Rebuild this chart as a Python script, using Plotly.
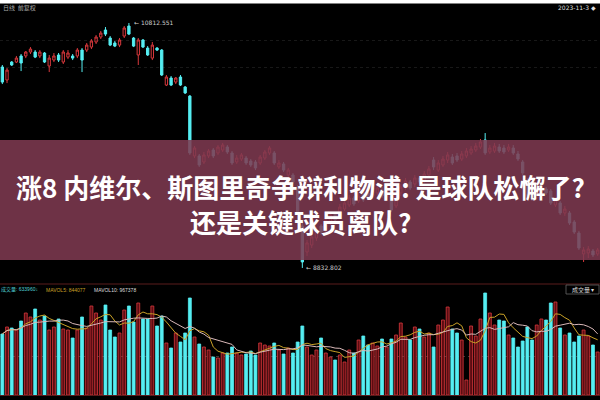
import plotly.graph_objects as go
import pandas as pd

# ---- data (index points, daily candles) ----
opens = [10457,10352,10497,10497,10546,10546,10578,10578,10546,10570,
         10465,10513,10554,10497,10537,10546,10546,10594,10594,10618,
         10659,10699,10756,10691,10651,10634,10707,10788,10691,10554,
         10675,10610,10529,10610,10594,10311,10368,10335,10376,10295,
         10222,9738,9738,9689,9738,9786,9762,9786,9810,9762,
         9689,9713,9721,9697,9689,9681,9721,9762,9762,9649,
         9673,9584,9584,9487,9172,8962,9018,9075,9172,9140,
         9204,9269,9253,9309,9342,9398,9374,9422,9439,9414,
         9439,9463,9406,9406,9334,9439,9487,9527,9511,9560,
         9544,9584,9705,9624,9665,9705,9729,9738,9713,9738,
         9762,9786,9810,9867,9770,9778,9810,9802,9786,9802,
         9754,9689,9544,9431,9398,9439,9471,9455,9342,9358,
         9277,9277,9204,9115,8946,8954,8970,8946]
highs = [10473,10449,10505,10546,10562,10586,10618,10594,10594,10578,
         10554,10570,10570,10594,10594,10562,10610,10610,10651,10683,
         10715,10748,10780,10707,10667,10691,10788,10812.551,10699,10691,
         10683,10626,10659,10618,10602,10392,10384,10376,10392,10303,
         10230,9818,9754,9770,9794,9802,9826,9843,9826,9778,
         9746,9762,9738,9713,9705,9746,9786,9818,9778,9705,
         9689,9641,9600,9503,9204,9059,9107,9164,9188,9245,
         9285,9285,9350,9382,9422,9414,9439,9439,9463,9479,
         9503,9487,9471,9422,9463,9511,9560,9544,9584,9576,
         9616,9657,9729,9705,9738,9770,9754,9762,9778,9802,
         9818,9843,9875,9923,9826,9843,9835,9826,9835,9826,
         9778,9705,9560,9447,9471,9503,9487,9471,9406,9374,
         9334,9293,9220,9132,9002,9010,8986,8994]
lows = [10319,10327,10465,10489,10424,10529,10562,10529,10529,10489,
        10416,10497,10497,10481,10521,10513,10529,10416,10578,10602,
        10643,10683,10707,10626,10618,10618,10691,10715,10618,10473,
        10610,10546,10513,10586,10384,10303,10303,10319,10303,10239,
        9746,9721,9649,9673,9721,9721,9746,9770,9754,9665,
        9673,9697,9665,9649,9624,9665,9705,9746,9665,9633,
        9608,9568,9511,9261,8832.802,8930,8994,9051,9099,9123,
        9180,9196,9237,9293,9325,9334,9358,9366,9382,9398,
        9422,9398,9390,9285,9317,9414,9463,9463,9487,9511,
        9519,9560,9624,9608,9649,9681,9665,9689,9697,9721,
        9746,9770,9794,9746,9754,9762,9762,9754,9770,9746,
        9697,9584,9398,9374,9382,9414,9422,9342,9325,9261,
        9253,9180,9107,8978,8881,8913,8921,8930]
closes = [10335,10432,10473,10529,10489,10578,10602,10537,10578,10497,
          10529,10546,10513,10578,10570,10529,10594,10513,10634,10667,
          10699,10731,10723,10634,10626,10675,10772,10723,10626,10675,
          10618,10554,10634,10594,10392,10376,10311,10368,10311,10247,
          9762,9802,9665,9746,9778,9738,9810,9826,9770,9681,
          9721,9746,9681,9665,9641,9729,9770,9802,9681,9681,
          9624,9624,9527,9277,8881,9035,9083,9140,9123,9220,
          9261,9220,9325,9358,9398,9350,9414,9382,9398,9455,
          9479,9414,9447,9301,9439,9487,9536,9479,9560,9527,
          9592,9633,9649,9681,9713,9746,9681,9705,9754,9778,
          9794,9818,9851,9762,9802,9818,9778,9770,9810,9762,
          9713,9600,9414,9390,9447,9479,9439,9358,9382,9277,
          9309,9196,9123,8994,8978,8986,8938,8978]
# volume in units of 10,000 lots
volumes = [61,68,67,65,74,82,78,86,75,79,
           65,68,76,66,65,57,65,78,67,89,
           82,75,90,65,58,62,85,89,73,92,
           76,76,89,69,79,52,47,62,53,62,
           97,58,51,48,45,38,37,42,42,48,
           42,40,41,44,40,52,50,49,52,45,
           41,47,42,53,69,48,40,45,57,42,
           38,35,40,33,45,42,55,59,50,52,
           49,56,48,56,60,72,58,55,68,66,
           58,62,48,70,75,88,66,62,55,15,
           69,59,76,102,82,70,75,74,60,57,
           48,54,68,55,70,76,75,92,93,67,
           60,62,53,59,65,59,50,43]

title_line1 = "涨8 内维尔、斯图里奇争辩利物浦: 是球队松懈了?"
title_line2 = "还是关键球员离队?"
max_label = "← 10812.551"
min_label = "← 8832.802"
vol_legend = ["成交量: 633960↓", "MAVOL5: 844077", "MAVOL10: 967378"]

CYAN = "#55eef2"
RED = "#d8383c"
x = list(range(len(closes)))
n = len(x)

vol_colors = [RED if c >= o else CYAN for o, c in zip(opens, closes)]
vol_fill = ["#5c0c12" if c >= o else CYAN for o, c in zip(opens, closes)]
vs = pd.Series(volumes, dtype=float)
ma5 = vs.rolling(5, min_periods=1).mean()
ma10 = vs.rolling(10, min_periods=1).mean()

fig = go.Figure()
fig.add_trace(go.Candlestick(
    x=x, open=opens, high=highs, low=lows, close=closes,
    increasing=dict(line=dict(color=RED, width=1), fillcolor="rgba(0,0,0,0)"),
    decreasing=dict(line=dict(color=CYAN, width=1), fillcolor=CYAN),
    whiskerwidth=0, showlegend=False, hoverinfo="skip",
    xaxis="x", yaxis="y"))
fig.add_trace(go.Bar(
    x=x, y=volumes, marker=dict(color=vol_fill, line=dict(color=vol_colors, width=0.8)),
    width=0.62, showlegend=False, hoverinfo="skip", xaxis="x", yaxis="y2"))
fig.add_trace(go.Scatter(x=x, y=ma5, mode="lines", line=dict(color="#c9a227", width=1),
                         showlegend=False, hoverinfo="skip", xaxis="x", yaxis="y2"))
fig.add_trace(go.Scatter(x=x, y=ma10, mode="lines", line=dict(color="#d9b8b8", width=1),
                         showlegend=False, hoverinfo="skip", xaxis="x", yaxis="y2"))

def py(px):
    return 1 - px / 400.0

shapes = [
    dict(type="rect", xref="paper", yref="paper", x0=0, x1=1, y0=py(3.5), y1=1,
         fillcolor="white", line=dict(width=0), layer="above"),
    dict(type="line", xref="paper", yref="paper", x0=0, x1=1, y0=py(284), y1=py(284),
         line=dict(color="#5a1c1c", width=1)),
    dict(type="line", xref="paper", yref="paper", x0=0, x1=1, y0=py(395.5), y1=py(395.5),
         line=dict(color="#5a1c1c", width=1)),
    dict(type="rect", xref="paper", yref="paper", x0=0, x1=1, y0=py(260), y1=py(140),
         fillcolor="rgba(126,58,80,0.87)", line=dict(width=0), layer="above"),
    dict(type="rect", xref="paper", yref="paper", x0=566/600, x1=599/600, y0=py(294), y1=py(285),
         fillcolor="rgba(0,0,0,0)", line=dict(color="#666", width=0.8)),
]

annotations = [
    dict(text=f"<b>{title_line1}</b>", xref="paper", yref="paper", x=0.5, y=py(186),
         showarrow=False, font=dict(family="Noto Sans CJK SC", size=26, color="white"),
         xanchor="center", yanchor="middle"),
    dict(text=f"<b>{title_line2}</b>", xref="paper", yref="paper", x=0.5, y=py(221),
         showarrow=False, font=dict(family="Noto Sans CJK SC", size=26, color="white"),
         xanchor="center", yanchor="middle"),
    dict(text=max_label, x=27.6, y=highs[27], xref="x", yref="y", showarrow=False,
         xanchor="left", yanchor="middle", font=dict(size=6, color="#cccccc", family="DejaVu Sans")),
    dict(text=min_label, x=64.4, y=min(lows), xref="x", yref="y", showarrow=False,
         xanchor="left", yanchor="middle", font=dict(size=6, color="#cccccc", family="DejaVu Sans")),
    dict(text="日线  前复权", xref="paper", yref="paper", x=0.003, y=py(7.5), showarrow=False,
         xanchor="left", yanchor="middle", borderpad=0,
         font=dict(size=6, color="#aaaaaa", family="Noto Sans CJK SC")),
    dict(text="2023-11-3 ◆", xref="paper", yref="paper", x=0.995, y=py(7.5), showarrow=False,
         xanchor="right", yanchor="middle", borderpad=0,
         font=dict(size=6, color="#dddddd", family="DejaVu Sans")),
    dict(text=vol_legend[0], xref="paper", yref="paper", x=0.0, y=py(289.5), showarrow=False,
         xanchor="left", yanchor="middle", borderpad=0,
         font=dict(size=5, color="#4fd0d6", family="Liberation Sans, Noto Sans CJK SC")),
    dict(text=vol_legend[1], xref="paper", yref="paper", x=45/600, y=py(289.5), showarrow=False,
         xanchor="left", yanchor="middle", borderpad=0,
         font=dict(size=5, color="#c9a227", family="Liberation Sans")),
    dict(text=vol_legend[2], xref="paper", yref="paper", x=93/600, y=py(289.5), showarrow=False,
         xanchor="left", yanchor="middle", borderpad=0,
         font=dict(size=5, color="#dddddd", family="Liberation Sans")),
    dict(text="成交量 ▾", xref="paper", yref="paper", x=582.5/600, y=py(289.5), showarrow=False,
         xanchor="center", yanchor="middle", borderpad=0,
         font=dict(size=6, color="#dddddd", family="Noto Sans CJK SC")),
]

fig.update_layout(
    width=600, height=400,
    margin=dict(l=0, r=0, t=0, b=0),
    paper_bgcolor="black", plot_bgcolor="black",
    showlegend=False,
    xaxis=dict(range=[-0.5, n - 0.5], showgrid=False, zeroline=False, showticklabels=False,
               ticks="", rangeslider=dict(visible=False), fixedrange=True),
    yaxis=dict(domain=[py(272), py(5)], range=[8800, 10958], showgrid=True,
               tickvals=[10675, 10449], gridcolor="#181818", griddash="dot",
               zeroline=False, showticklabels=False, ticks="", fixedrange=True),
    yaxis2=dict(domain=[py(395), py(287)], range=[0, 108], showgrid=True,
                tickvals=[39], gridcolor="#3a3a3a", griddash="dot",
                zeroline=False, showticklabels=False, ticks="", fixedrange=True),
    shapes=shapes, annotations=annotations,
    bargap=0.3,
)

fig.write_html("out.html", config=dict(displayModeBar=False, staticPlot=True),
               post_script="document.body.style.margin='0';document.body.style.overflow='hidden';")
